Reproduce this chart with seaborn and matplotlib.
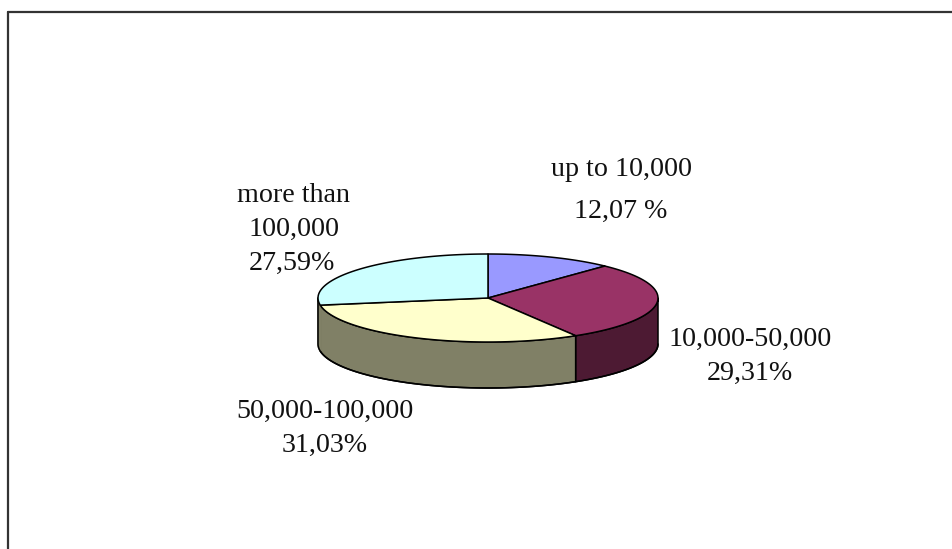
import numpy as np
import matplotlib
matplotlib.use("Agg")
import matplotlib.pyplot as plt
from matplotlib.lines import Line2D
import seaborn as sns

# Data
categories = ["up to 10,000", "10,000-50,000", "50,000-100,000", "more than 100,000"]
shares = [12.07, 29.31, 31.03, 27.59]
top_colors = ["#9999FF", "#993366", "#FFFFCC", "#CCFFFF"]
side_colors = ["#4D4D80", "#4D1A33", "#808066", "#808066"]

# Label lines and their pixel anchors (text, x centre, y centre)
label_lines = [
    ("up to 10,000", 622, 170), ("12,07 %", 621, 211),
    ("more than", 294, 195), ("100,000", 294, 229), ("27,59%", 292, 263),
    ("10,000-50,000", 750, 339), ("29,31%", 750, 373),
    ("50,000-100,000", 325, 411), ("31,03%", 325, 445),
]

W, H = 953, 549
CX, CY, RX, RY, DEPTH = 488, 298, 170, 44, 46

sns.set_theme(style="white")
plt.rcParams["font.family"] = ["Liberation Serif", "DejaVu Serif"]

fig = plt.figure(figsize=(W / 100, H / 100), dpi=100, facecolor="white")
ax = fig.add_axes([0, 0, 1, 1])
ax.set_xlim(0, W)
ax.set_ylim(H, 0)
ax.axis("off")

# Frame: left and top only, the right and bottom are cropped away
ax.add_line(Line2D([8.5, 8.5], [H, 11.5], color="#333333", lw=1.6))
ax.add_line(Line2D([8.5, W], [11.5, 11.5], color="#333333", lw=1.6))


def rim(a0, a1, n=80):
    """Ellipse points, angles clockwise from 12 o'clock in degrees."""
    t = np.radians(np.linspace(a0, a1, n))
    return CX + RX * np.sin(t), CY - RY * np.cos(t)


fractions = np.array(shares) / sum(shares)
ends = np.cumsum(fractions) * 360
starts = np.r_[0, ends[:-1]]

# Side walls: only the front half of the rim (90..270 degrees) is visible
for a0, a1, c in zip(starts, ends, side_colors):
    s0, s1 = max(a0, 90), min(a1, 270)
    if s1 <= s0:
        continue
    x, y = rim(s0, s1)
    ax.fill(np.r_[x, x[::-1]], np.r_[y, y[::-1] + DEPTH], facecolor=c,
            edgecolor=c if s0 > 255 else "black", lw=1.1, joinstyle="round", zorder=2)

# Outline of the whole visible wall
x, y = rim(90, 270)
ax.plot(np.r_[x, x[-1]], np.r_[y + DEPTH, y[-1]], color="black", lw=1.1, zorder=2.5)

# Top faces
for a0, a1, c in zip(starts, ends, top_colors):
    x, y = rim(a0, a1)
    ax.fill(np.r_[CX, x], np.r_[CY, y], facecolor=c,
            edgecolor="black", lw=1.1, joinstyle="round", zorder=3)

for txt, x, y in label_lines:
    ax.text(x, y, txt, ha="center", va="center", fontsize=20.2,
            color="#111111", zorder=4)

fig.savefig("out.png", dpi=100, facecolor="white")
